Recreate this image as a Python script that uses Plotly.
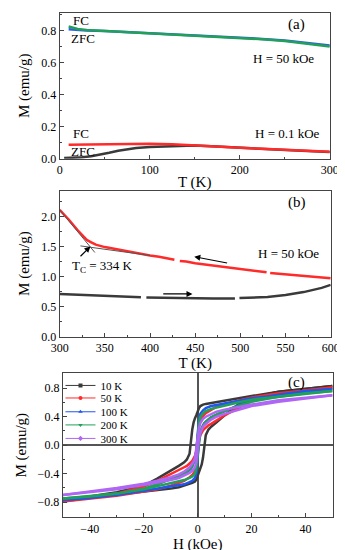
import plotly.graph_objects as go

# ---------------- Panel (a): M vs T ----------------
T_a50 = [10, 20, 30, 50, 75, 100, 125, 150, 175, 200, 225, 250, 275, 300]
M_fc_50 = [0.828, 0.812, 0.806, 0.800, 0.792, 0.785, 0.779, 0.772, 0.765, 0.757, 0.748, 0.737, 0.722, 0.703]
M_zfc_50 = [0.810, 0.806, 0.803, 0.799, 0.792, 0.786, 0.780, 0.773, 0.766, 0.759, 0.750, 0.740, 0.726, 0.709]

T_fc01 = [10, 30, 50, 75, 100, 125, 150, 175, 200, 225, 250, 275, 300]
M_fc01 = [0.087, 0.089, 0.092, 0.094, 0.094, 0.091, 0.085, 0.077, 0.069, 0.062, 0.055, 0.049, 0.043]
T_zfc01 = [5, 15, 25, 35, 45, 55, 65, 75, 85, 100, 115, 130, 150, 175, 200, 225, 250, 275, 300]
M_zfc01 = [0.004, 0.006, 0.009, 0.015, 0.025, 0.037, 0.050, 0.060, 0.067, 0.073, 0.077, 0.080, 0.083,
           0.076, 0.068, 0.061, 0.054, 0.048, 0.042]

# ---------------- Panel (b): high-temperature M vs T ----------------
T_cool = [300, 310, 320, 330, 335, 340, 350, 360, 370, 380, 390, 400, 410, 420, 427, None,
          433, 440, 450, 460, 470, 480, 490, 500, 510, 520, 529, None,
          533, 540, 550, 560, 570, 580, 590, 600]
M_cool = [2.11, 1.95, 1.77, 1.61, 1.57, 1.53, 1.49, 1.46, 1.43, 1.40, 1.38, 1.35, 1.33, 1.30, 1.28, None,
          1.26, 1.25, 1.22, 1.20, 1.18, 1.16, 1.15, 1.13, 1.11, 1.09, 1.07, None,
          1.06, 1.05, 1.04, 1.02, 1.01, 0.99, 0.98, 0.97]
T_heat = [300, 320, 340, 360, 380, 390, None, 396, 410, 430, 450, 470, 490, 494, None,
          499, 510, 530, 550, 570, 590, 600]
M_heat = [0.71, 0.70, 0.68, 0.67, 0.66, 0.655, None, 0.65, 0.645, 0.64, 0.635, 0.635, 0.635, 0.635, None,
          0.64, 0.645, 0.66, 0.69, 0.74, 0.81, 0.86]
T_tan1 = [300, 339]
M_tan1 = [2.11, 1.40]
T_tan2 = [323, 400]
M_tan2 = [1.51, 1.35]

# ---------------- Panel (c): hysteresis loops ----------------
H_desc = [50, 40, 30, 20, 15, 10, 7, 5, 3, 2, 1, 0.5, 0, -0.5, -1, -1.5, -2, -2.5, -3, -4, -5, -7, -10, -15, -20, -30, -40, -50]
H_asc = [-50, -40, -30, -20, -15, -10, -7, -5, -3, -2, -1, -0.5, 0, 0.5, 1, 1.5, 2, 2.5, 3, 4, 5, 7, 10, 15, 20, 30, 40, 50]
loop_labels = ["10 K", "50 K", "100 K", "200 K", "300 K"]
M_desc_10K = [0.83, 0.79, 0.75, 0.69, 0.66, 0.63, 0.61, 0.60, 0.58, 0.57, 0.55, 0.52, 0.46, 0.42, 0.38, 0.32, 0.22, 0.05, -0.12, -0.20, -0.24, -0.29, -0.36, -0.47, -0.57, -0.66, -0.72, -0.78]
M_asc_10K = [-0.78, -0.74, -0.70, -0.66, -0.64, -0.61, -0.59, -0.57, -0.55, -0.53, -0.51, -0.48, -0.43, -0.38, -0.33, -0.27, -0.17, 0.00, 0.14, 0.22, 0.26, 0.32, 0.42, 0.57, 0.67, 0.75, 0.79, 0.83]
M_desc_50K = [0.81, 0.77, 0.73, 0.67, 0.63, 0.58, 0.54, 0.50, 0.45, 0.41, 0.35, 0.27, 0.10, -0.08, -0.15, -0.19, -0.22, -0.24, -0.26, -0.29, -0.31, -0.35, -0.41, -0.50, -0.58, -0.68, -0.74, -0.79]
M_asc_50K = [-0.79, -0.75, -0.71, -0.65, -0.62, -0.57, -0.53, -0.50, -0.45, -0.42, -0.36, -0.28, -0.11, 0.07, 0.14, 0.18, 0.21, 0.23, 0.25, 0.28, 0.30, 0.35, 0.42, 0.52, 0.62, 0.71, 0.77, 0.81]
M_desc_100K = [0.79, 0.75, 0.71, 0.66, 0.62, 0.59, 0.57, 0.55, 0.52, 0.49, 0.44, 0.36, 0.15, -0.10, -0.20, -0.26, -0.30, -0.33, -0.35, -0.38, -0.40, -0.43, -0.47, -0.55, -0.62, -0.69, -0.74, -0.77]
M_asc_100K = [-0.77, -0.74, -0.70, -0.64, -0.61, -0.59, -0.57, -0.55, -0.52, -0.50, -0.46, -0.39, -0.18, 0.08, 0.18, 0.24, 0.28, 0.31, 0.33, 0.36, 0.39, 0.43, 0.48, 0.56, 0.63, 0.71, 0.76, 0.79]
M_desc_200K = [0.76, 0.72, 0.68, 0.64, 0.60, 0.56, 0.53, 0.51, 0.48, 0.45, 0.40, 0.32, 0.12, -0.10, -0.19, -0.25, -0.29, -0.32, -0.34, -0.37, -0.40, -0.43, -0.48, -0.55, -0.61, -0.68, -0.72, -0.75]
M_asc_200K = [-0.75, -0.72, -0.68, -0.62, -0.58, -0.54, -0.51, -0.49, -0.46, -0.44, -0.40, -0.33, -0.14, 0.08, 0.18, 0.24, 0.28, 0.31, 0.33, 0.36, 0.39, 0.43, 0.48, 0.55, 0.61, 0.68, 0.73, 0.76]
M_desc_300K = [0.70, 0.67, 0.63, 0.57, 0.54, 0.50, 0.47, 0.44, 0.40, 0.37, 0.31, 0.24, 0.08, -0.10, -0.18, -0.23, -0.26, -0.29, -0.31, -0.34, -0.37, -0.41, -0.45, -0.50, -0.54, -0.60, -0.65, -0.70]
M_asc_300K = [-0.70, -0.66, -0.62, -0.56, -0.53, -0.49, -0.46, -0.43, -0.39, -0.36, -0.31, -0.24, -0.07, 0.10, 0.17, 0.22, 0.26, 0.28, 0.30, 0.33, 0.36, 0.40, 0.44, 0.49, 0.55, 0.61, 0.66, 0.70]

M_desc_all = [M_desc_10K, M_desc_50K, M_desc_100K, M_desc_200K, M_desc_300K]
M_asc_all = [M_asc_10K, M_asc_50K, M_asc_100K, M_asc_200K, M_asc_300K]
loop_colors = ["#3a3a3a", "#ff2a2a", "#1f55f0", "#22a05a", "#b066f5"]
loop_symbols = ["square", "circle", "triangle-up", "triangle-down", "diamond"]
legend_names = ["legend", "legend2", "legend3", "legend4", "legend5"]
legend_rows_y = [0.3049, 0.2818, 0.2564, 0.2322, 0.2073]

FONT = "Liberation Serif"
fig = go.Figure()

# Panel a traces
fig.add_trace(go.Scatter(x=T_a50, y=M_zfc_50, mode="lines", line=dict(color="#2f5be8", width=2.5),
                         showlegend=False, xaxis="x", yaxis="y"))
fig.add_trace(go.Scatter(x=T_a50, y=M_fc_50, mode="lines", line=dict(color="#22a05a", width=2.5),
                         showlegend=False, xaxis="x", yaxis="y"))
fig.add_trace(go.Scatter(x=T_zfc01, y=M_zfc01, mode="lines", line=dict(color="#3a3a3a", width=2.5),
                         showlegend=False, xaxis="x", yaxis="y"))
fig.add_trace(go.Scatter(x=T_fc01, y=M_fc01, mode="lines", line=dict(color="#ff2a2a", width=2.5),
                         showlegend=False, xaxis="x", yaxis="y"))

# Panel b traces
fig.add_trace(go.Scatter(x=T_cool, y=M_cool, mode="lines", line=dict(color="#ff2a2a", width=2.5),
                         connectgaps=False, showlegend=False, xaxis="x2", yaxis="y2"))
fig.add_trace(go.Scatter(x=T_heat, y=M_heat, mode="lines", line=dict(color="#3a3a3a", width=2.5),
                         connectgaps=False, showlegend=False, xaxis="x2", yaxis="y2"))
fig.add_trace(go.Scatter(x=T_tan1, y=M_tan1, mode="lines", line=dict(color="#555555", width=1),
                         showlegend=False, xaxis="x2", yaxis="y2"))
fig.add_trace(go.Scatter(x=T_tan2, y=M_tan2, mode="lines", line=dict(color="#555555", width=1),
                         showlegend=False, xaxis="x2", yaxis="y2"))

# Panel c traces
for lab, md, ma, col in zip(loop_labels, M_desc_all, M_asc_all, loop_colors):
    fig.add_trace(go.Scatter(x=H_desc + [None] + H_asc, y=md + [None] + ma, mode="lines",
                             line=dict(color=col, width=2.5), showlegend=False,
                             xaxis="x3", yaxis="y3"))
for lab, col, sym, lg in zip(loop_labels, loop_colors, loop_symbols, legend_names):
    fig.add_trace(go.Scatter(x=[None], y=[None], mode="lines+markers", name=lab, legend=lg,
                             line=dict(color=col, width=1), marker=dict(symbol=sym, size=4, color=col),
                             xaxis="x3", yaxis="y3"))


def axis_style(**kw):
    d = dict(showline=True, mirror=True, linecolor="#444444", linewidth=1,
             ticks="inside", ticklen=4, tickcolor="#444444", tickwidth=1,
             showgrid=False, zeroline=False,
             tickfont=dict(family=FONT, size=12, color="black"),
             title=dict(font=dict(family=FONT, size=15, color="black")))
    d.update(kw)
    return d


def minor(dt):
    return dict(ticks="inside", ticklen=2, tickcolor="#444444", dtick=dt)


fig.update_layout(
    width=345, height=550,
    margin=dict(l=0, r=0, t=0, b=0),
    paper_bgcolor="white", plot_bgcolor="white",
    font=dict(family=FONT, color="black"),
    xaxis=axis_style(domain=[0.1304, 0.9565], range=[0, 300], dtick=100, anchor="y", minor=minor(50)),
    yaxis=axis_style(domain=[0.7224, 0.991], range=[0, 0.913], dtick=0.2, tickformat=".1f", anchor="x",
                     minor=minor(0.1)),
    xaxis2=axis_style(domain=[0.1304, 0.9594], range=[300, 600], dtick=50, anchor="y2", minor=minor(25)),
    yaxis2=axis_style(domain=[0.395, 0.6636], range=[0, 2.43], dtick=0.5, tickformat=".1f", anchor="x2",
                      minor=minor(0.25)),
    xaxis3=axis_style(domain=[0.14, 0.965], range=[-50, 50], dtick=20, anchor="y3",
                      zeroline=True, zerolinecolor="#555555", zerolinewidth=1.5, minor=minor(10)),
    yaxis3=axis_style(domain=[0.0624, 0.3273], range=[-1.01, 1.01], dtick=0.4, tickformat=".1f", anchor="x3",
                      zeroline=True, zerolinecolor="#555555", zerolinewidth=1.5, minor=minor(0.2)),
)

for lg, yy in zip(legend_names, legend_rows_y):
    fig.update_layout({lg: dict(x=0.133, y=yy, xanchor="left", yanchor="middle", bgcolor="rgba(0,0,0,0)",
                                font=dict(family=FONT, size=11, color="black"), itemwidth=30,
                                borderwidth=0)})

fig.layout.xaxis.title.text = "T (K)"
fig.layout.yaxis.title.text = "M (emu/g)"
fig.layout.xaxis2.title.text = "T (K)"
fig.layout.yaxis2.title.text = "M (emu/g)"
fig.layout.xaxis3.title.text = "H (kOe)"
fig.layout.yaxis3.title.text = "M (emu/g)"
for ax in [fig.layout.xaxis, fig.layout.xaxis2, fig.layout.xaxis3]:
    ax.title.standoff = 0
for ax in [fig.layout.yaxis, fig.layout.yaxis2, fig.layout.yaxis3]:
    ax.title.standoff = 7

txt = dict(family=FONT, size=13, color="black")
big = dict(family=FONT, size=15, color="black")
ann = [
    # panel a
    dict(x=24, y=0.866, xref="x", yref="y", text="FC", showarrow=False, font=txt),
    dict(x=26, y=0.75, xref="x", yref="y", text="ZFC", showarrow=False, font=txt),
    dict(x=263, y=0.84, xref="x", yref="y", text="(a)", showarrow=False, font=big),
    dict(x=249, y=0.63, xref="x", yref="y", text="H = 50 kOe", showarrow=False, font=txt),
    dict(x=253, y=0.155, xref="x", yref="y", text="H = 0.1 kOe", showarrow=False, font=txt),
    dict(x=24, y=0.155, xref="x", yref="y", text="FC", showarrow=False, font=txt),
    dict(x=26, y=0.043, xref="x", yref="y", text="ZFC", showarrow=False, font=txt),
    # panel b
    dict(x=563, y=2.235, xref="x2", yref="y2", text="(b)", showarrow=False, font=big),
    dict(x=553, y=1.39, xref="x2", yref="y2", text="H = 50 kOe", showarrow=False, font=txt),
    dict(x=334, y=1.50, ax=312, ay=1.17, xref="x2", yref="y2", axref="x2", ayref="y2",
         text="T<sub>C</sub> = 334 K", xanchor="left", font=txt,
         showarrow=True, arrowhead=2, arrowsize=1, arrowwidth=1.2, arrowcolor="black"),
    dict(x=449, y=1.33, ax=487, ay=1.22, xref="x2", yref="y2", axref="x2", ayref="y2", text="",
         showarrow=True, arrowhead=2, arrowsize=1, arrowwidth=1.2, arrowcolor="black"),
    dict(x=447, y=0.71, ax=413, ay=0.71, xref="x2", yref="y2", axref="x2", ayref="y2", text="",
         showarrow=True, arrowhead=2, arrowsize=1, arrowwidth=1.2, arrowcolor="black"),
    # panel c
    dict(x=36.6, y=0.88, xref="x3", yref="y3", text="(c)", showarrow=False, font=big),
]
fig.update_layout(annotations=ann)

fig.write_html("out.html")
